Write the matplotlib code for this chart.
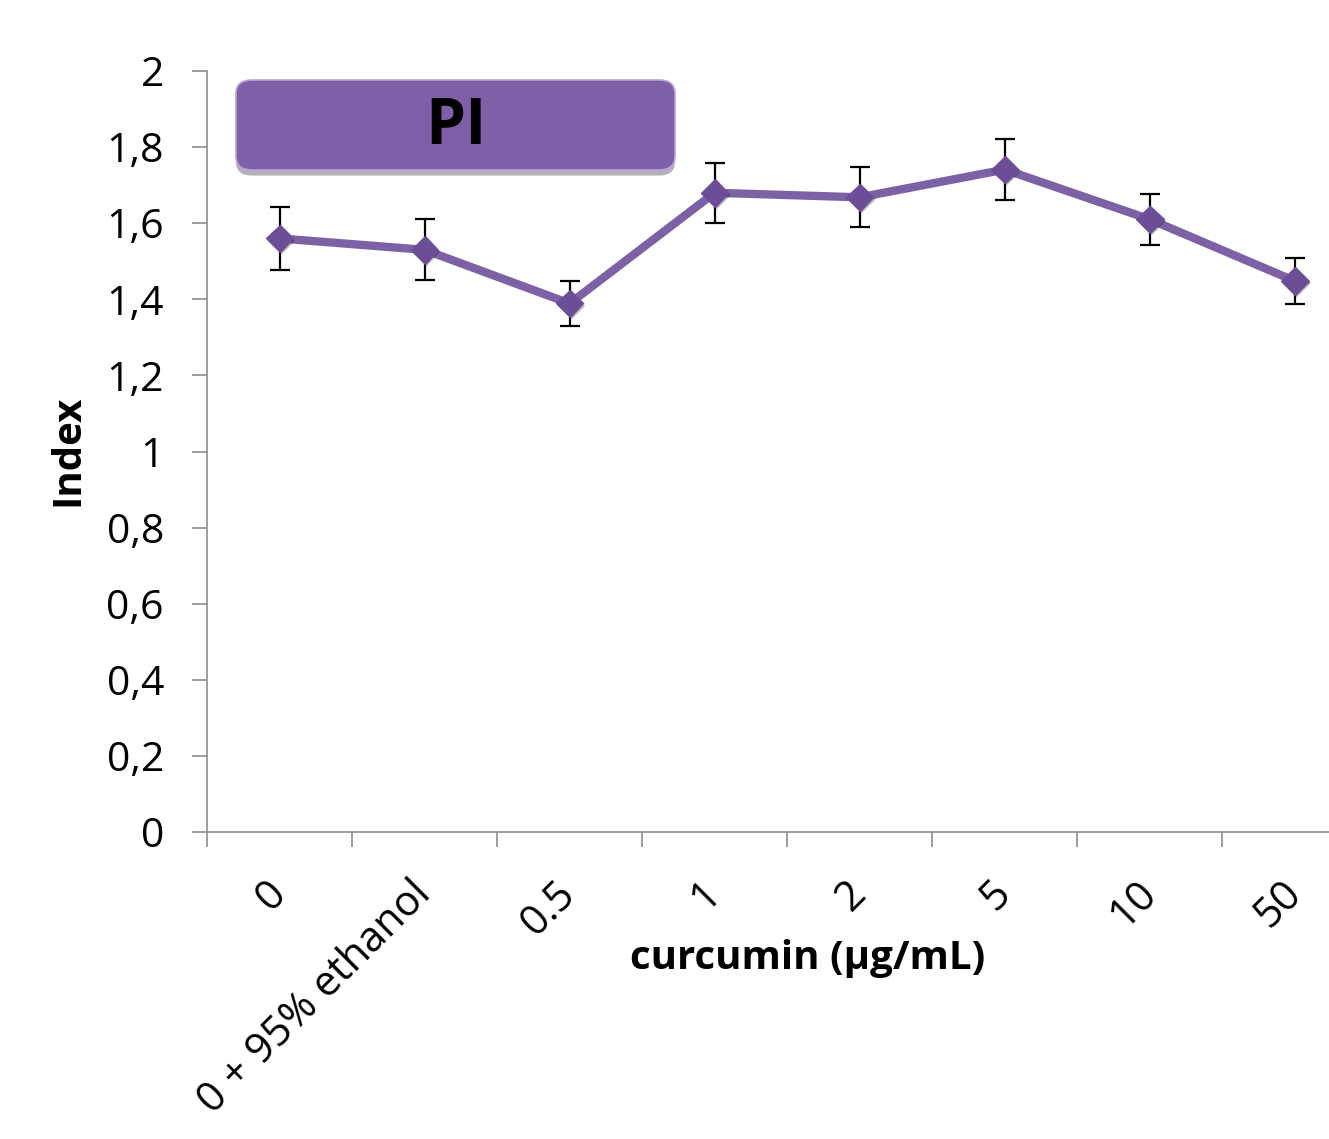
import matplotlib
matplotlib.use("Agg")
import matplotlib.pyplot as plt
from matplotlib.patches import FancyBboxPatch
import matplotlib.patheffects as pe

plt.rcParams['font.family'] = ['Open Sans', 'DejaVu Sans']

categories = ["0", "0 + 95% ethanol", "0.5", "1", "2", "5", "10", "50"]
values = [1.560, 1.530, 1.389, 1.680, 1.668, 1.741, 1.610, 1.448]
errors = [0.083, 0.080, 0.060, 0.079, 0.079, 0.081, 0.068, 0.060]
y_ticks = [0, 0.2, 0.4, 0.6, 0.8, 1.0, 1.2, 1.4, 1.6, 1.8, 2.0]
y_tick_labels = ["0", "0,2", "0,4", "0,6", "0,8", "1", "1,2", "1,4", "1,6", "1,8", "2"]

W, H = 1329, 1139
fig = plt.figure(figsize=(W / 100, H / 100), dpi=100)
ax = fig.add_axes([207 / W, 1 - 832 / H, (W - 207) / W, (832 - 71) / H])

x = list(range(len(categories)))
line_color = "#7D61A5"
marker_color = "#6B4E96"

ax.errorbar(x, values, yerr=errors, fmt='none', ecolor='black', elinewidth=1.6,
            capsize=7, capthick=1.6, zorder=2)
ax.plot(x, values, color=line_color, lw=6, zorder=3, solid_capstyle='round')
ax.plot(x, values, linestyle='none', marker='D', markersize=14, color=marker_color,
        markeredgecolor=marker_color, zorder=4,
        path_effects=[pe.SimplePatchShadow(offset=(1.5, -1.5), alpha=0.3), pe.Normal()])

ax.set_xlim(-0.5, 7.235)
ax.set_ylim(0, 2)

# y axis
ax.set_yticks(y_ticks)
ax.set_yticklabels(y_tick_labels, fontsize=29.5)
ax.tick_params(axis='y', length=11, width=1.2, color='#8C8C8C', pad=20)

# x axis: ticks at category boundaries, labels at centres
ax.set_xticks([i - 0.5 for i in range(len(categories))])
ax.set_xticklabels([])
ax.set_xticks(x, minor=True)
ax.set_xticklabels(categories, minor=True, rotation=45, ha='right', va='center',
                   rotation_mode='anchor', fontsize=30)
ax.tick_params(axis='x', which='major', length=11, width=1.2, color='#8C8C8C')
ax.tick_params(axis='x', which='minor', length=0, pad=40)

for s in ['top', 'right']:
    ax.spines[s].set_visible(False)
for s in ['left', 'bottom']:
    ax.spines[s].set_color('#8C8C8C')
    ax.spines[s].set_linewidth(1.2)

fig.text(68 / W, 1 - 450 / H, "Index", rotation=90, ha='center', va='center',
         fontsize=29, fontweight='bold')
fig.text(808 / W, 1 - 958 / H, "curcumin (µg/mL)", ha='center', va='center',
         fontsize=29, fontweight='bold')

# PI label box
bx0, by0, bx1, by1 = 236, 80, 675, 170
box = FancyBboxPatch((bx0 / W, 1 - by1 / H), (bx1 - bx0) / W, (by1 - by0) / H,
                     boxstyle="round,pad=0,rounding_size=0.012",
                     transform=fig.transFigure, facecolor="#7F60A8",
                     edgecolor="#B9A2DA", linewidth=1.2, zorder=5,
                     path_effects=[pe.SimplePatchShadow(offset=(0, -4), alpha=0.35), pe.Normal()])
fig.patches.append(box)
fig.text((bx0 + bx1) / 2 / W, 1 - 128 / H, "PI", ha='center', va='center',
         fontsize=46, fontweight='bold', color='black', zorder=6)

fig.savefig("out.png", dpi=100)
